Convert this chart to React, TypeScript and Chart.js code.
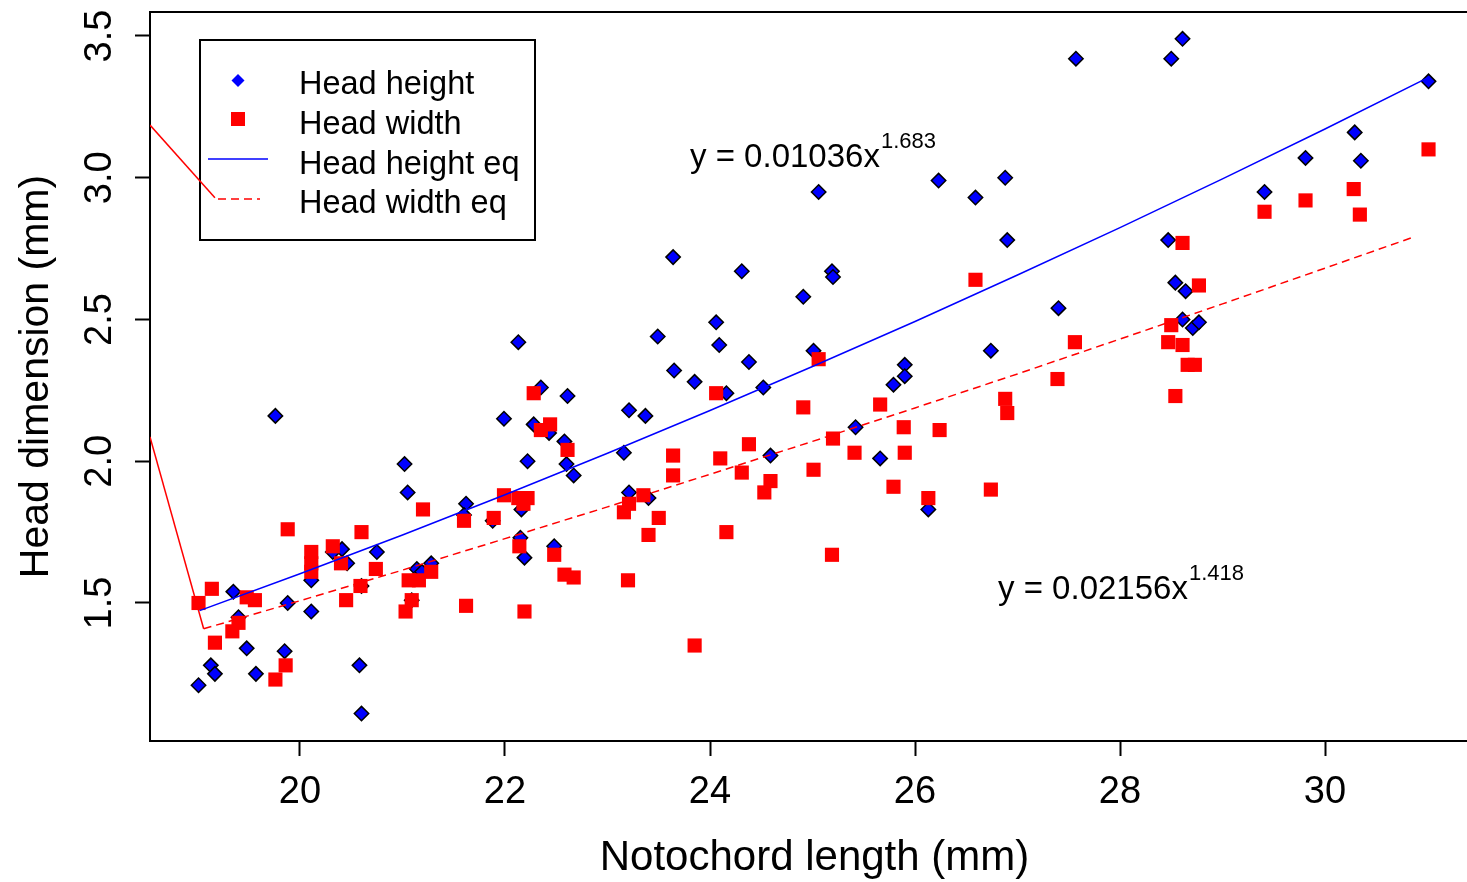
import React, { useEffect, useRef } from 'react';
import { Chart, registerables } from 'chart.js';

Chart.register(...registerables);

const FONT = "'Liberation Sans', Arial, Helvetica, sans-serif";

// Head height (blue diamonds)
const headHeightX = [
  19.01, 19.13, 19.17, 19.35, 19.40, 19.48, 19.57, 19.76, 19.85, 19.88,
  20.11, 20.11, 20.32, 20.41, 20.46, 20.58, 20.60, 20.60, 20.75, 21.02,
  21.05, 21.09, 21.14, 21.19, 21.28, 21.62, 21.60, 21.88, 21.99, 22.13,
  22.15, 22.16, 22.19, 22.22, 22.28, 22.35, 22.43, 22.48, 22.58, 22.60,
  22.61, 22.67, 23.16, 23.21, 23.21, 23.37, 23.40, 23.49, 23.64, 23.65,
  23.85, 24.06, 24.09, 24.16, 24.31, 24.38, 24.52, 24.59, 24.91, 25.01,
  25.06, 25.19, 25.20, 25.42, 25.66, 25.79, 25.90, 25.90, 26.13, 26.23,
  26.59, 26.74, 26.88, 26.90, 27.40, 27.57, 28.50, 28.47, 28.54, 28.61,
  28.64, 28.61, 28.71, 28.77, 29.41, 29.81, 30.29, 30.35, 31.01,
];
const headHeightY = [
  1.21, 1.28, 1.25, 1.54, 1.45, 1.34, 1.25, 2.16, 1.33, 1.50,
  1.47, 1.58, 1.68, 1.69, 1.64, 1.28, 1.11, 1.56, 1.68, 1.99,
  1.89, 1.51, 1.62, 1.61, 1.64, 1.85, 1.81, 1.79, 2.15, 2.42,
  1.73, 1.83, 1.66, 2.00, 2.13, 2.26, 2.10, 1.70, 2.07, 1.99,
  2.23, 1.95, 2.03, 2.18, 1.89, 2.16, 1.87, 2.44, 2.72, 2.32,
  2.28, 2.49, 2.41, 2.24, 2.67, 2.35, 2.26, 2.02, 2.58, 2.39,
  2.95, 2.67, 2.65, 2.12, 2.01, 2.27, 2.34, 2.30, 1.83, 2.99,
  2.93, 2.39, 3.00, 2.78, 2.54, 3.42, 3.42, 2.78, 2.63, 3.49,
  2.60, 2.50, 2.47, 2.49, 2.95, 3.07, 3.16, 3.06, 3.34,
];

// Head width (red squares)
const headWidthX = [
  19.01, 19.14, 19.17, 19.34, 19.40, 19.48, 19.56, 19.76, 19.86, 19.88,
  20.11, 20.11, 20.11, 20.32, 20.40, 20.45, 20.59, 20.60, 20.74, 21.03,
  21.06, 21.16, 21.09, 21.20, 21.28, 21.60, 21.62, 21.89, 21.99, 22.13,
  22.22, 22.18, 22.14, 22.19, 22.28, 22.35, 22.44, 22.48, 22.58, 22.61,
  22.67, 23.16, 23.21, 23.20, 23.35, 23.40, 23.50, 23.64, 23.64, 23.85,
  24.06, 24.10, 24.16, 24.31, 24.38, 24.53, 24.59, 24.91, 25.01, 25.06,
  25.20, 25.19, 25.41, 25.66, 25.79, 25.89, 25.90, 26.13, 26.24, 26.59,
  26.74, 26.88, 26.90, 27.39, 27.56, 28.47, 28.50, 28.54, 28.61, 28.61,
  28.66, 28.73, 28.77, 29.41, 29.81, 30.28, 30.34, 31.01,
];
const headWidthY = [
  1.50, 1.55, 1.36, 1.40, 1.43, 1.52, 1.51, 1.23, 1.28, 1.76,
  1.68, 1.64, 1.61, 1.70, 1.64, 1.51, 1.56, 1.75, 1.62, 1.47,
  1.58, 1.58, 1.51, 1.83, 1.61, 1.79, 1.49, 1.80, 1.88, 1.87,
  1.87, 1.85, 1.70, 1.47, 2.24, 2.11, 2.13, 1.67, 1.60, 2.04,
  1.59, 1.82, 1.85, 1.58, 1.88, 1.74, 1.80, 2.02, 1.95, 1.35,
  2.24, 2.01, 1.75, 1.96, 2.06, 1.89, 1.93, 2.19, 1.97, 2.36,
  2.08, 1.67, 2.03, 2.20, 1.91, 2.12, 2.03, 1.87, 2.11, 2.64,
  1.90, 2.22, 2.17, 2.29, 2.42, 2.42, 2.48, 2.23, 2.77, 2.41,
  2.34, 2.34, 2.62, 2.88, 2.92, 2.96, 2.87, 3.10,
];

// Fitted curves
const heightEqX = [19.02, 20, 21, 22, 23, 24, 25, 26, 27, 28, 29, 30, 31.01];
const heightEqY = [1.473, 1.603, 1.740, 1.882, 2.028, 2.179, 2.334, 2.493, 2.657, 2.824, 2.996, 3.172, 3.354];
const widthEqX = [19.06, 20, 21, 22, 23, 24, 25, 26, 27, 28, 29, 30, 30.85];
const widthEqY = [1.409, 1.508, 1.616, 1.727, 1.839, 1.954, 2.070, 2.188, 2.308, 2.431, 2.555, 2.681, 2.789];

// Stray red solid segments entering from the left edge
const strayAX = [18.5366, 19.17];
const strayAY = [3.186, 2.929];
const strayBX = [18.5366, 19.06];
const strayBY = [2.086, 1.409];

const xTicks = [20, 22, 24, 26, 28, 30];
const yTicks = [1.5, 2.0, 2.5, 3.0, 3.5];
const yTickLabels = ['1.5', '2.0', '2.5', '3.0', '3.5'];
const legendLabels = ['Head height', 'Head width', 'Head height eq', 'Head width eq'];
const eqHeight = { base: 'y = 0.01036x', exp: '1.683' };
const eqWidth = { base: 'y = 0.02156x', exp: '1.418' };

const X_MIN = 18.5366;
const X_MAX = 31.5024;
const Y_MIN = 1.0132;
const Y_MAX = 3.5846;

const toPts = (xs: number[], ys: number[]) => xs.map((x, i) => ({ x, y: ys[i] }));

export default function App() {
  const ref = useRef<HTMLCanvasElement>(null);

  useEffect(() => {
    const canvas = ref.current;
    if (!canvas) return;

    const overlay = {
      id: 'overlay',
      beforeDatasetsDraw(chart: any) {
        const ctx = chart.ctx as CanvasRenderingContext2D;
        const { left, top } = chart.chartArea;
        const bx = left + 50;
        const by = top + 28;
        ctx.save();
        ctx.fillStyle = '#ffffff';
        ctx.fillRect(bx, by, 335, 200);
        ctx.strokeStyle = '#000000';
        ctx.lineWidth = 2;
        ctx.strokeRect(bx, by, 335, 200);

        // diamond
        const dx = bx + 38, dy = by + 40.5;
        ctx.fillStyle = '#0000FF';
        ctx.beginPath();
        ctx.moveTo(dx, dy - 6.5);
        ctx.lineTo(dx + 6.5, dy);
        ctx.lineTo(dx, dy + 6.5);
        ctx.lineTo(dx - 6.5, dy);
        ctx.closePath();
        ctx.fill();
        // square
        ctx.fillStyle = '#FF0000';
        ctx.fillRect(bx + 31, by + 72, 14, 14);
        // blue line
        ctx.strokeStyle = '#0000FF';
        ctx.lineWidth = 1.5;
        ctx.beginPath();
        ctx.moveTo(bx + 8, by + 119);
        ctx.lineTo(bx + 68, by + 119);
        ctx.stroke();
        // red dashed
        ctx.strokeStyle = '#FF0000';
        ctx.setLineDash([8, 5]);
        ctx.beginPath();
        ctx.moveTo(bx + 18, by + 159);
        ctx.lineTo(bx + 60, by + 159);
        ctx.stroke();
        ctx.setLineDash([]);

        ctx.fillStyle = '#000000';
        ctx.font = `32.5px ${FONT}`;
        ctx.textAlign = 'left';
        ctx.textBaseline = 'alphabetic';
        const baselines = [54, 94, 134, 173];
        legendLabels.forEach((t, i) => ctx.fillText(t, bx + 99, by + baselines[i]));
        ctx.restore();
      },
      afterDraw(chart: any) {
        const ctx = chart.ctx as CanvasRenderingContext2D;
        const { left, top } = chart.chartArea;
        ctx.save();
        // top frame line
        ctx.strokeStyle = '#000000';
        ctx.lineWidth = 2;
        ctx.beginPath();
        ctx.moveTo(left - 1, top);
        ctx.lineTo(chart.width, top);
        ctx.stroke();

        // rotated y tick labels
        const ys = chart.scales.y;
        ctx.fillStyle = '#000000';
        ctx.font = `38px ${FONT}`;
        ctx.textAlign = 'center';
        ctx.textBaseline = 'middle';
        yTicks.forEach((v, i) => {
          const py = ys.getPixelForValue(v);
          ctx.save();
          ctx.translate(left - 49, py);
          ctx.rotate(-Math.PI / 2);
          ctx.fillText(yTickLabels[i], 0, 0);
          ctx.restore();
        });

        // equations
        const drawEq = (eq: { base: string; exp: string }, x: number, baseY: number) => {
          ctx.textAlign = 'left';
          ctx.textBaseline = 'alphabetic';
          ctx.font = `33px ${FONT}`;
          ctx.fillText(eq.base, x, baseY);
          const w = ctx.measureText(eq.base).width;
          ctx.font = `22px ${FONT}`;
          ctx.fillText(eq.exp, x + w + 1, baseY - 19);
        };
        drawEq(eqHeight, 690, 167);
        drawEq(eqWidth, 998, 599);
        ctx.restore();
      },
    };

    const gridOpts = {
      display: true,
      drawOnChartArea: false,
      drawTicks: true,
      tickLength: 15,
      tickWidth: 2,
      tickColor: '#000000',
      color: '#000000',
    };

    const chart = new Chart(canvas, {
      type: 'scatter',
      data: {
        datasets: [
          {
            label: 'Head height eq',
            data: toPts(heightEqX, heightEqY),
            showLine: true,
            borderColor: '#0000FF',
            borderWidth: 1.5,
            pointRadius: 0,
            fill: false,
          },
          {
            label: 'Head width eq',
            data: toPts(widthEqX, widthEqY),
            showLine: true,
            borderColor: '#FF0000',
            borderWidth: 1.5,
            borderDash: [8, 5],
            pointRadius: 0,
            fill: false,
          },
          {
            label: 'stray A',
            data: toPts(strayAX, strayAY),
            showLine: true,
            borderColor: '#FF0000',
            borderWidth: 1.5,
            pointRadius: 0,
            fill: false,
          },
          {
            label: 'stray B',
            data: toPts(strayBX, strayBY),
            showLine: true,
            borderColor: '#FF0000',
            borderWidth: 1.5,
            pointRadius: 0,
            fill: false,
          },
          {
            label: 'Head width',
            data: toPts(headWidthX, headWidthY),
            pointStyle: 'rect',
            pointRadius: 10,
            pointBackgroundColor: '#FF0000',
            pointBorderColor: '#FF0000',
            pointBorderWidth: 0,
            backgroundColor: '#FF0000',
            borderColor: '#FF0000',
          },
          {
            label: 'Head height',
            data: toPts(headHeightX, headHeightY),
            pointStyle: 'rectRot',
            pointRadius: 7.2,
            pointBackgroundColor: '#0000FF',
            pointBorderColor: '#000000',
            pointBorderWidth: 1.5,
            backgroundColor: '#0000FF',
            borderColor: '#000000',
          },
        ] as any,
      },
      options: {
        animation: false,
        responsive: false,
        events: [],
        layout: { autoPadding: false, padding: { left: 0, right: 1, top: 12, bottom: 0 } },
        plugins: {
          legend: { display: false },
          tooltip: { enabled: false },
        },
        scales: {
          x: {
            type: 'linear',
            position: 'bottom',
            min: X_MIN,
            max: X_MAX,
            afterBuildTicks: (s: any) => {
              s.ticks = xTicks.map((v) => ({ value: v }));
            },
            afterFit: (s: any) => {
              s.height = 141;
              s.paddingLeft = 0;
              s.paddingRight = 0;
            },
            border: { display: true, color: '#000000', width: 2 },
            grid: gridOpts,
            ticks: {
              color: '#000000',
              font: { family: FONT, size: 38 },
              padding: 14,
              maxRotation: 0,
              minRotation: 0,
              autoSkip: false,
              callback: (v: any) => String(v),
            },
            title: {
              display: true,
              text: 'Notochord length (mm)',
              color: '#000000',
              font: { family: FONT, size: 42, lineHeight: 1.12 },
              padding: { top: 0, bottom: 0 },
            },
          },
          y: {
            type: 'linear',
            position: 'left',
            min: Y_MIN,
            max: Y_MAX,
            afterBuildTicks: (s: any) => {
              s.ticks = yTicks.map((v) => ({ value: v }));
            },
            afterFit: (s: any) => {
              s.width = 150;
              s.paddingTop = 0;
              s.paddingBottom = 0;
            },
            border: { display: true, color: '#000000', width: 2 },
            grid: gridOpts,
            ticks: { display: false },
            title: {
              display: true,
              text: 'Head dimension (mm)',
              color: '#000000',
              font: { family: FONT, size: 41 },
              padding: { top: 12, bottom: 0 },
            },
          },
        },
      } as any,
      plugins: [overlay],
    });

    return () => chart.destroy();
  }, []);

  return (
    <div
      style={{
        position: 'fixed',
        left: 0,
        top: 0,
        width: 1467,
        height: 882,
        overflow: 'hidden',
        background: '#ffffff',
      }}
    >
      <canvas ref={ref} width={1480} height={882} style={{ display: 'block' }} />
    </div>
  );
}
